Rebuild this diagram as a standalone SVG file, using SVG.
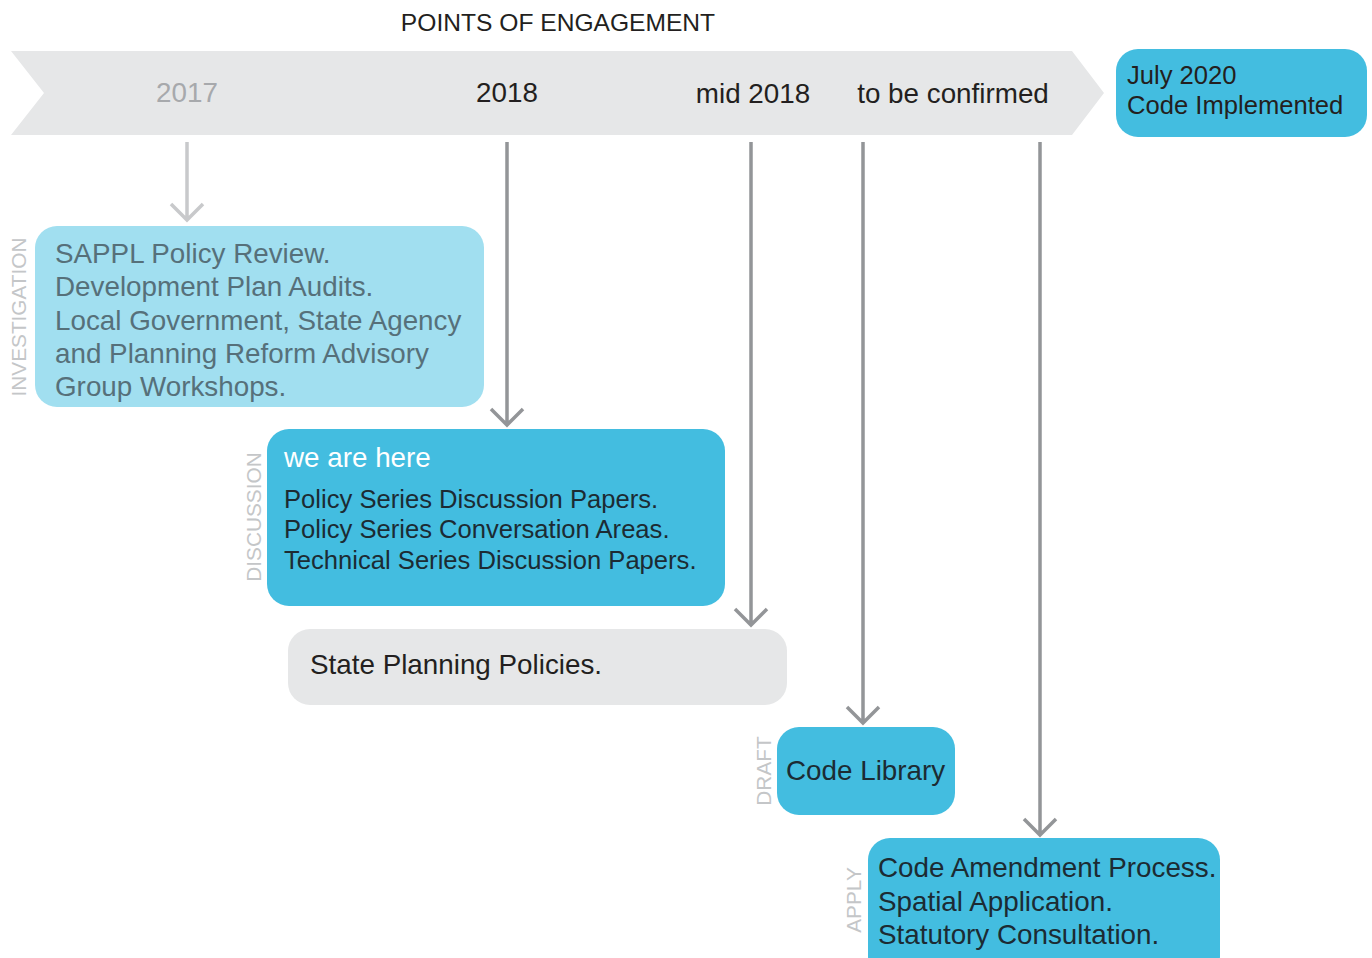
<svg xmlns="http://www.w3.org/2000/svg" width="1372" height="958" viewBox="0 0 1372 958">
<style>
text{font-family:"Liberation Sans",Arial,sans-serif}
.blue{fill:#43bde0}
.lblue{fill:#a1dff0}
.grey{fill:#e6e7e8}
.dark{fill:#231f20}
.lab{fill:#c4c6c8;font-size:20.8px}
.conn{stroke:#939598;stroke-width:3.5;fill:none}
.connl{stroke:#c8c9cb;stroke-width:3.5;fill:none}
.t26{font-size:27.8px}
.t24{font-size:25.6px}
</style>
<rect width="1372" height="958" fill="#fff"/>
<g id="header">
<text x="558" y="31" text-anchor="middle" class="dark" font-size="24.6">POINTS OF ENGAGEMENT</text>
</g>
<g id="timeline">
<polygon class="grey" points="11,51 1072,51 1104,93 1072,135 11,135 44,93"/>
<text x="187" y="102" text-anchor="middle" class="t26" fill="#a7a9ac">2017</text>
<text x="507" y="102" text-anchor="middle" class="t26 dark">2018</text>
<text x="753" y="103" text-anchor="middle" class="t26 dark">mid 2018</text>
<text x="953" y="103" text-anchor="middle" class="t26 dark">to be confirmed</text>
</g>
<g id="july2020">
<rect x="1116" y="49" width="251" height="88" rx="22" class="blue"/>
<text x="1127" y="84" class="t24 dark">July 2020</text>
<text x="1127" y="114" class="t24 dark">Code Implemented</text>
</g>
<g id="connectors">
<path class="connl" d="M187,142V219M171,204L187,220L203,204"/>
<path class="conn" d="M507,142V424M491,409L507,425L523,409"/>
<path class="conn" d="M751,142V624M735,609L751,625L767,609"/>
<path class="conn" d="M863,142V722M847,707L863,723L879,707"/>
<path class="conn" d="M1040,142V834M1024,819L1040,835L1056,819"/>
</g>
<g id="investigation">
<rect x="35" y="226" width="449" height="181" rx="22" class="lblue"/>
<text class="lab" transform="translate(26,317) rotate(-90)" text-anchor="middle">INVESTIGATION</text>
<g class="t26" fill="#56707a">
<text x="55" y="263">SAPPL Policy Review.</text>
<text x="55" y="296">Development Plan Audits.</text>
<text x="55" y="330">Local Government, State Agency</text>
<text x="55" y="363">and Planning Reform Advisory</text>
<text x="55" y="396">Group Workshops.</text>
</g>
</g>
<g id="discussion">
<rect x="267" y="429" width="458" height="177" rx="22" class="blue"/>
<text class="lab" transform="translate(261,517) rotate(-90)" text-anchor="middle">DISCUSSION</text>
<text x="284" y="467" class="t26" fill="#fff">we are here</text>
<g class="t24" fill="#1c2b33">
<text x="284" y="508">Policy Series Discussion Papers.</text>
<text x="284" y="538">Policy Series Conversation Areas.</text>
<text x="284" y="569">Technical Series Discussion Papers.</text>
</g>
</g>
<g id="state-planning">
<rect x="288" y="629" width="499" height="76" rx="22" class="grey"/>
<text x="310" y="674" class="t26 dark">State Planning Policies.</text>
</g>
<g id="code-library">
<rect x="777" y="727" width="178" height="88" rx="22" class="blue"/>
<text class="lab" transform="translate(771,771) rotate(-90)" text-anchor="middle">DRAFT</text>
<text x="786" y="780" class="t26" fill="#1c2b33">Code Library</text>
</g>
<g id="apply">
<rect x="868" y="838" width="352" height="140" rx="22" class="blue"/>
<text class="lab" transform="translate(861,900) rotate(-90)" text-anchor="middle">APPLY</text>
<g class="t26" fill="#1c2b33">
<text x="878" y="877">Code Amendment Process.</text>
<text x="878" y="911">Spatial Application.</text>
<text x="878" y="944">Statutory Consultation.</text>
</g>
</g>
</svg>
